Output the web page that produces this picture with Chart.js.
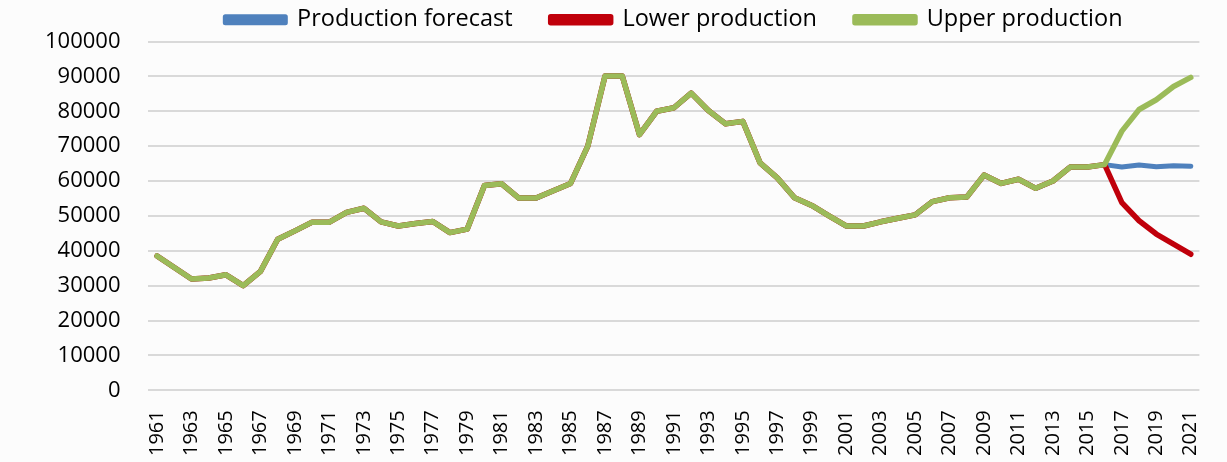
<!DOCTYPE html>
<html>
<head>
<meta charset="utf-8">
<script src="https://cdn.jsdelivr.net/npm/chart.js@4/dist/chart.umd.min.js"></script>
<style>
  html, body { margin: 0; padding: 0; background: #fcfcfc; }
  #wrap { width: 1227px; height: 462px; }
</style>
</head>
<body>
<div id="wrap"><canvas id="mycanvas" width="1227" height="462"></canvas></div>
<script>
// years on the x axis
const years = [
  '1961','1962','1963','1964','1965','1966','1967','1968','1969','1970',
  '1971','1972','1973','1974','1975','1976','1977','1978','1979','1980',
  '1981','1982','1983','1984','1985','1986','1987','1988','1989','1990',
  '1991','1992','1993','1994','1995','1996','1997','1998','1999','2000',
  '2001','2002','2003','2004','2005','2006','2007','2008','2009','2010',
  '2011','2012','2013','2014','2015','2016','2017','2018','2019','2020','2021'
];

// 1961 - 2016, shared by all three series
const history = [
  38500, 35200, 31900, 32200, 33100, 30000, 34100, 43300, 45700, 48200,
  48200, 51000, 52200, 48300, 47100, 47800, 48400, 45200, 46200, 58700,
  59200, 55100, 55100, 57200, 59300, 70000, 90100, 90100, 73300, 80000,
  81000, 85200, 80200, 76400, 77100, 65200, 60900, 55200, 53000, 50000,
  47100, 47100, 48300, 49300, 50300, 54100, 55200, 55400, 61700, 59300,
  60500, 57900, 60000, 64000, 64000, 64700
];

// 2017 - 2021
const forecastMid = [64000, 64600, 64100, 64400, 64200];
const forecastLow = [53800, 48600, 44800, 41900, 39000];
const forecastHigh = [74300, 80500, 83300, 87100, 89700];

const yTicks = { min: 0, max: 100000, step: 10000 };

const font = "'Open Sans', 'DejaVu Sans', sans-serif";

const ctx = document.getElementById('mycanvas');
window.myChart = new Chart(ctx, {
  type: 'line',
  data: {
    labels: years,
    datasets: [
      {
        label: 'Production forecast',
        data: history.concat(forecastMid),
        borderColor: '#4f81bd',
        backgroundColor: '#4f81bd',
        borderWidth: 5,
        order: 2
      },
      {
        label: 'Lower production',
        data: history.concat(forecastLow),
        borderColor: '#c0000b',
        backgroundColor: '#c0000b',
        borderWidth: 5.5,
        order: 1
      },
      {
        label: 'Upper production',
        data: history.concat(forecastHigh),
        borderColor: '#9bbb59',
        backgroundColor: '#9bbb59',
        borderWidth: 5.5,
        order: 0
      }
    ]
  },
  options: {
    responsive: false,
    animation: false,
    elements: {
      point: { radius: 0 },
      line: { tension: 0, borderJoinStyle: 'round', borderCapStyle: 'round' }
    },
    layout: { padding: { left: 17, right: 15, top: -30, bottom: -6 } },
    plugins: {
      legend: {
        position: 'top',
        fullSize: false,
        labels: {
          boxWidth: 60,
          boxHeight: 6,
          padding: 38,
          color: '#000',
          font: { family: font, size: 23.5 },
          sort: function(a, b) { return a.datasetIndex - b.datasetIndex; }
        }
      },
      tooltip: { enabled: false }
    },
    scales: {
      x: {
        offset: true,
        grid: { display: false },
        border: { display: false },
        ticks: {
          autoSkip: false,
          maxRotation: 90,
          minRotation: 90,
          padding: 12,
          color: '#000',
          font: { family: font, size: 20 },
          callback: function(val, idx) { return idx % 2 === 0 ? this.getLabelForValue(val) : ''; }
        }
      },
      y: {
        min: yTicks.min,
        max: yTicks.max,
        grid: { color: '#d9d9d9', lineWidth: 2, drawTicks: false },
        border: { display: false },
        ticks: {
          stepSize: yTicks.step,
          padding: 28,
          color: '#000',
          font: { family: font, size: 22 },
          callback: function(val) { return String(val); }
        }
      }
    }
  }
});
</script>
</body>
</html>
